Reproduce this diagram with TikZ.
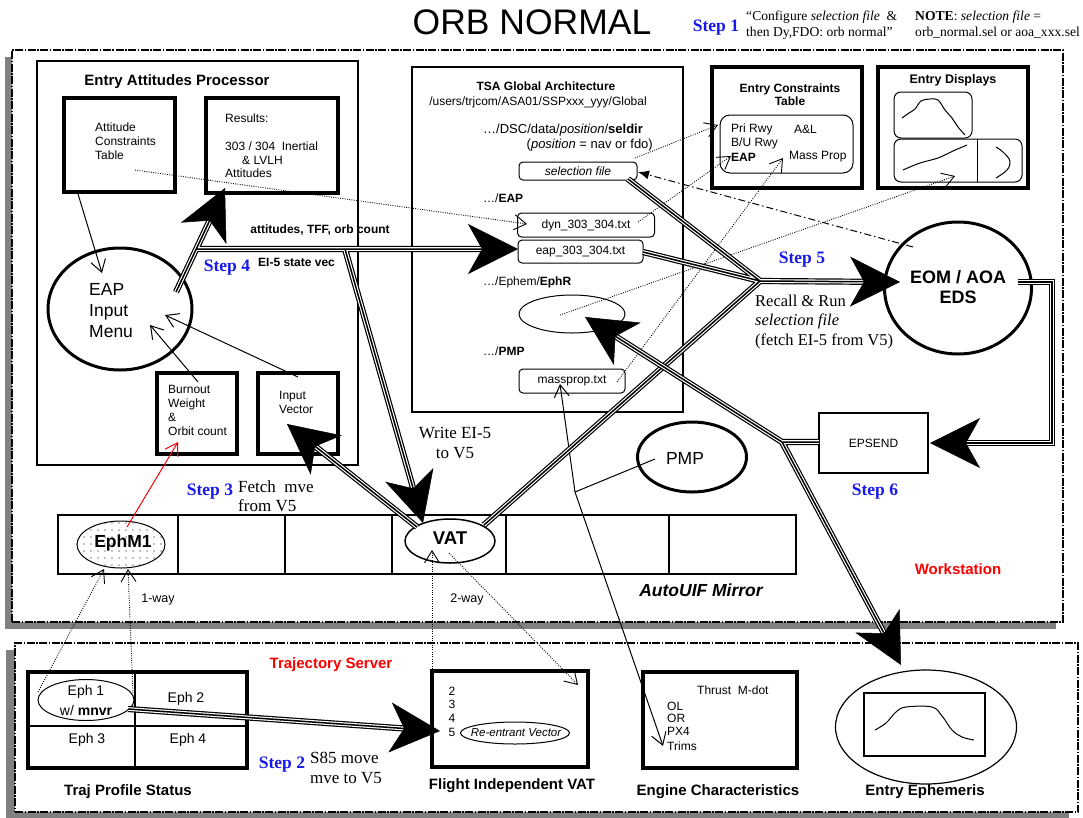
\documentclass[tikz,border=0pt]{standalone}
\usepackage{fontspec}
\setmainfont{Liberation Sans}
\newfontfamily\tnr{Liberation Serif}
\usetikzlibrary{arrows.meta,calc,shapes.geometric,patterns.meta}
\definecolor{stepblue}{RGB}{25,25,235}
\definecolor{shadowgray}{RGB}{128,128,128}
\tikzset{
  t12/.style={font=\fontsize{12}{14}\selectfont, inner sep=0pt},
  t12w/.style={t12, anchor=west, align=left},
  t12b/.style={font=\fontsize{12}{13.5}\selectfont\bfseries, inner sep=0pt},
  t15b/.style={font=\fontsize{15}{17}\selectfont\bfseries, inner sep=0pt},
  steplab/.style={font=\tnr\fontsize{17.5}{20}\selectfont\bfseries, text=stepblue, inner sep=0pt},
  serifnote/.style={font=\tnr\fontsize{17}{19.5}\selectfont, inner sep=0pt},
  thickbox/.style={draw, line width=3.5pt, inner sep=0pt},
  thinbox/.style={draw, line width=1.2pt, inner sep=0pt},
  rbox/.style={draw, line width=1pt, rounded corners=4pt, inner sep=0pt, font=\fontsize{12}{14}\selectfont},
  ovalnode/.style={ellipse, draw, inner sep=0pt},
  dashframe/.style={draw, fill=white, line width=1.5pt, inner sep=0pt, dash pattern=on 8pt off 1.5pt on 1.5pt off 1.5pt},
  trip/.style={line width=6.2pt, draw=black, postaction={draw=white, line width=3.8pt}, postaction={draw=black, line width=1.5pt}},
  bigtip/.style={line width=0.5pt, -{Stealth[length=50pt, width=50pt, inset=14pt]}},
  barb/.style={line width=1pt, -{Straight Barb[length=12pt, width=15pt]}},
  dotbarb/.style={line width=0.9pt, dash pattern=on 0.9pt off 1.4pt, -{Straight Barb[length=12pt, width=15pt]}},
}
\begin{document}
\begin{tikzpicture}[x=1pt,y=-1pt]
\useasboundingbox (0,0) rectangle (1083,817);
\fill[white] (0,0) rectangle (1083,817);
% frames with shadows
\fill[shadowgray] (5,57) rectangle (1056,629);
\node[dashframe, minimum width=1051pt, minimum height=572pt] (ws) at (537.5,336) {};
\fill[shadowgray] (6,650) rectangle (1069,818);
\node[dashframe, minimum width=1063pt, minimum height=169pt] (ts) at (546.5,727.5) {};

% header
\node[font=\fontsize{35.5}{40}\selectfont, inner sep=0pt] (title) at (532,22) {ORB NORMAL};
\node[steplab] (step1) at (716,28) {Step 1};
\node[font=\tnr\fontsize{13.6}{16}\selectfont, inner sep=0pt, anchor=west, align=left] (cfg) at (746,25) {“Configure \textit{selection file}\ \ \&\\then Dy,FDO: orb normal”};
\node[font=\tnr\fontsize{13.6}{16}\selectfont, inner sep=0pt, anchor=west, align=left] (note) at (915,25) {\textbf{NOTE}: \textit{selection file} =\\orb\_normal.sel or aoa\_xxx.sel};

% Entry Attitudes Processor
\node[thinbox, minimum width=321pt, minimum height=404pt] (eapproc) at (197.5,263) {};
\node[t15b] (eaptitle) at (177,82) {Entry Attitudes Processor};
\node[thickbox, minimum width=111pt, minimum height=94pt] (act) at (119.5,145) {};
\node[t12w] (acttxt) at (95,141) {Attitude\\Constraints\\Table};
\node[thickbox, minimum width=132pt, minimum height=95pt] (res) at (272,145.5) {};
\node[t12w] (restxt1) at (225,118) {Results:};
\node[t12w] (restxt2) at (225,146) {303 / 304~~Inertial};
\node[t12w] (restxt3) at (242,160) {\& LVLH};
\node[t12w] (restxt4) at (225,173) {Attitudes};
\node[ovalnode, line width=3pt, minimum width=144pt, minimum height=122pt] (menu) at (120,309) {};
\node[font=\fontsize{17.5}{21}\selectfont, inner sep=0pt, anchor=west, align=left] (menutxt) at (89,311) {EAP\\Input\\Menu};
\node[thickbox, minimum width=80pt, minimum height=81pt] (burn) at (197,413.5) {};
\node[t12w] (burntxt) at (168,410) {Burnout\\Weight\\\&\\Orbit count};
\node[thickbox, minimum width=80pt, minimum height=81pt] (ivec) at (298,413.5) {};
\node[t12w] (ivectxt) at (279,402) {Input\\Vector};
\node[t12b] (attlab) at (320,230) {attitudes, TFF, orb count};
\node[t12b, anchor=west] (eilab) at (258,262) {EI-5 state vec};
\node[steplab] (step4) at (227,268) {Step 4};

% TSA Global Architecture
\node[thinbox, minimum width=271pt, minimum height=345pt] (tsa) at (547.5,239.5) {};
\node[t12b] (tsatitle) at (546,86) {TSA Global Architecture};
\node[t12] (tsapath) at (538,102) {/users/trjcom/ASA01/SSPxxx\_yyy/Global};
\node[inner sep=0pt, font=\fontsize{13}{15}\selectfont, anchor=west] (seldir) at (483,130) {…/DSC/data/\textit{position}/\textbf{seldir}};
\node[inner sep=0pt, font=\fontsize{13}{15}\selectfont, anchor=east] (posn) at (653,145) {(\textit{position} = nav or fdo)};
\node[rbox, minimum width=118pt, minimum height=18pt, font=\fontsize{12}{14}\selectfont\itshape] (self) at (578,171) {selection file};
\node[t12, anchor=west] (eapdir) at (483,198) {…/\textbf{EAP}};
\node[rbox, minimum width=137pt, minimum height=24pt] (dyn) at (586,225) {dyn\_303\_304.txt};
\node[rbox, minimum width=125pt, minimum height=23pt] (eapf) at (580.5,251.5) {eap\_303\_304.txt};
\node[t12, anchor=west] (ephdir) at (483,282) {…/Ephem/\textbf{EphR}};
\node[ovalnode, line width=1pt, minimum width=106pt, minimum height=38pt] (ephr) at (572,314) {};
\node[t12, anchor=west] (pmpdir) at (483,351) {…/\textbf{PMP}};
\node[rbox, minimum width=106pt, minimum height=24pt] (mass) at (572,381) {massprop.txt};

% Entry Constraints Table
\node[thickbox, minimum width=150pt, minimum height=121pt] (ect) at (787,127.5) {};
\node[t12b, align=center] (ecttitle) at (790,94.5) {Entry Constraints\\Table};
\node[draw, line width=1pt, rounded corners=10pt, inner sep=0pt, minimum width=133pt, minimum height=58pt] (ectin) at (786.5,144) {};
\node[t12, anchor=west] (pri) at (731,129) {Pri Rwy};
\node[t12, anchor=west] (al) at (794,129) {A\&L};
\node[t12, anchor=west] (bu) at (731,143) {B/U Rwy};
\node[t12, anchor=west, font=\fontsize{12}{14}\selectfont\bfseries] (eapc) at (731,157) {EAP};
\node[t12, anchor=west] (mp) at (789,157) {Mass Prop};

% Entry Displays
\node[thickbox, minimum width=150pt, minimum height=121pt] (disp) at (953,127.5) {};
\node[font=\fontsize{12.5}{14}\selectfont\bfseries, inner sep=0pt] (disptitle) at (953,80) {Entry Displays};
\node[draw, line width=1pt, rounded corners=7pt, inner sep=0pt, minimum width=78pt, minimum height=46pt] (dtop) at (933,115) {};
\node[draw, line width=1pt, rounded corners=7pt, inner sep=0pt, minimum width=128pt, minimum height=43pt] (dbot) at (958,160.5) {};
\draw[line width=1pt] (977,139) -- (977,182);
\draw[line width=1pt] plot[smooth, tension=0.6] coordinates {(902,118) (909,113) (915,109) (921,101) (930,99) (938,100) (945,110) (952,118) (958,127) (965,135)};
\draw[line width=1pt] plot[smooth, tension=0.6] coordinates {(903,170) (920,163) (938,158) (953,151) (967,145)};
\draw[line width=1pt] plot[smooth, tension=0.6] coordinates {(996,147) (1003,152) (1010,161) (1007,170) (996,178)};

% EOM / EPSEND / PMP
\node[ovalnode, line width=3pt, minimum width=147pt, minimum height=132pt] (eom) at (958,288) {};
\node[font=\fontsize{18}{20}\selectfont\bfseries, inner sep=0pt, align=center] (eomtxt) at (958,287) {EOM / AOA\\EDS};
\node[steplab] (step5) at (802,260) {Step 5};
\node[font=\tnr\fontsize{16.5}{19.5}\selectfont, inner sep=0pt, anchor=west, align=left] (recall) at (755,322) {Recall \& Run\\\textit{selection file}\\(fetch EI-5 from V5)};
\node[thinbox, minimum width=109pt, minimum height=60pt, font=\fontsize{12}{14}\selectfont] (epsend) at (873.5,443) {EPSEND};
\node[steplab] (step6) at (875,492) {Step 6};
\node[ovalnode, line width=3pt, minimum width=109pt, minimum height=70pt] (pmp) at (692,457) {};
\node[font=\fontsize{17.5}{20}\selectfont, inner sep=0pt] (pmptxt) at (685,458) {PMP};
\node[serifnote, align=center] (write) at (455,443) {Write EI-5\\to V5};
\node[steplab] (step3) at (210,492) {Step 3};
\node[serifnote, anchor=west, align=left] (fetch) at (238,496) {Fetch~~mve\\from V5};

% AutoUIF Mirror row
\foreach \nm/\cx/\w in {c1/118/120, c2/231.5/107, c3/338.5/107, c4/449/114, c5/587.5/163, c6/732.5/127}
  \node[draw, line width=1.2pt, inner sep=0pt, minimum width=\w pt, minimum height=59pt] (\nm) at (\cx,544.5) {};
\node[ovalnode, line width=1pt, pattern={Dots[distance=7pt, radius=0.7pt]}, minimum width=88pt, minimum height=47pt] (ephm1) at (121,544.5) {};
\node[font=\fontsize{17.5}{20}\selectfont\bfseries, inner sep=0pt] (ephm1txt) at (123,543) {EphM1};
\node[ovalnode, line width=1.5pt, fill=white, minimum width=90pt, minimum height=44pt] (vat) at (450,541) {};
\node[font=\fontsize{18.5}{20}\selectfont\bfseries, inner sep=0pt] (vattxt) at (450,538) {VAT};
\node[font=\fontsize{12.5}{14}\selectfont, inner sep=0pt] (oneway) at (158,599) {1-way};
\node[font=\fontsize{12.5}{14}\selectfont, inner sep=0pt] (twoway) at (467,599) {2-way};
\node[font=\fontsize{17.5}{20}\selectfont\bfseries\itshape, inner sep=0pt] (mirror) at (701,590) {AutoUIF Mirror};
\node[font=\fontsize{15}{17}\selectfont\bfseries, text=red, inner sep=0pt] (wslab) at (958,569) {Workstation};

% Trajectory Server
\node[font=\fontsize{15}{17}\selectfont\bfseries, text=red, inner sep=0pt] (tslab) at (331,665) {Trajectory Server};
\node[thickbox, minimum width=219pt, minimum height=96pt] (tps) at (137.5,720) {};
\draw[line width=1.2pt] (135,672) -- (135,768);
\draw[line width=1.2pt] (28,726) -- (247,726);
\node[ovalnode, line width=1pt, fill=white, minimum width=96pt, minimum height=41pt] (eph1) at (86,700) {};
\node[font=\fontsize{14}{16}\selectfont, inner sep=0pt] (eph1a) at (86,692) {Eph 1};
\node[font=\fontsize{14}{16}\selectfont, inner sep=0pt] (eph1b) at (86,710) {w/ \textbf{mnvr}};
\node[font=\fontsize{14}{16}\selectfont, inner sep=0pt] (eph2) at (186,699) {Eph 2};
\node[font=\fontsize{14}{16}\selectfont, inner sep=0pt] (eph3) at (87,740) {Eph 3};
\node[font=\fontsize{14}{16}\selectfont, inner sep=0pt] (eph4) at (188,740) {Eph 4};
\node[t15b] (tpslab) at (128,792) {Traj Profile Status};
\node[steplab] (step2) at (282,765) {Step 2};
\node[serifnote, anchor=west, align=left] (s85) at (310,768) {S85 move\\mve to V5};

\node[thickbox, minimum width=156pt, minimum height=96pt] (fiv) at (510,719) {};
\node[font=\fontsize{12}{13.7}\selectfont, inner sep=0pt, align=left] (nums) at (452,711.5) {2\\3\\4\\5};
\node[ovalnode, line width=1pt, minimum width=109pt, minimum height=22pt] (reent) at (515,733) {};
\node[font=\fontsize{11.5}{13}\selectfont\itshape, inner sep=0pt] (reenttxt) at (516,733) {Re-entrant Vector};
\node[t15b] (fivlab) at (512,786) {Flight Independent VAT};

\node[thickbox, minimum width=154pt, minimum height=96pt] (eng) at (720,720) {};
\node[t12, anchor=west] (thr) at (697,690) {Thrust~~M-dot};
\node[t12, anchor=west] (ol) at (667,706) {OL};
\node[t12, anchor=west] (or) at (667,718) {OR};
\node[t12, anchor=west] (px4) at (667,731) {PX4};
\node[t12, anchor=west] (trims) at (667,746) {Trims};
\node[t15b] (englab) at (718,792) {Engine Characteristics};

\node[ovalnode, line width=1.2pt, minimum width=181pt, minimum height=114pt] (ephem) at (926,727) {};
\node[draw, line width=1.2pt, inner sep=0pt, minimum width=121pt, minimum height=63pt] (ephemplot) at (924.5,724.5) {};
\draw[line width=1pt] plot[smooth, tension=0.6] coordinates {(875,730) (886,723) (896,712) (906,707) (932,707) (942,716) (952,730) (962,737) (974,740)};
\node[t15b] (ephemlab) at (925,792) {Entry Ephemeris};

% thin connectors
\coordinate (actout) at (78,194);   \coordinate (menuA) at (102,273);
\coordinate (burnout) at (198,382); \coordinate (menuB) at (150,325);
\coordinate (ivecout) at (298,377); \coordinate (menuC) at (165,315);
\coordinate (m1out) at (127,527);   \coordinate (burnin) at (178,442);
\draw[barb] (actout) -- (menuA);
\draw[barb] (burnout) -- (menuB);
\draw[barb] (ivecout) -- (menuC);
\draw[barb, red] (m1out) -- (burnin);
\coordinate (massin) at (560,384); \coordinate (pmpj) at (575,492); \coordinate (engin) at (663,746);
\draw[line width=1pt, {Straight Barb[length=12pt, width=15pt]}-{Straight Barb[length=12pt, width=15pt]}] (massin) -- (pmpj) -- (engin);
\draw[line width=1pt] (655,459) -- (pmpj);

% dotted connectors
\draw[dotbarb] (135,170) -- (527,224);
\draw[dotbarb] (38,692) -- (104,569);
\draw[dotbarb] (133,693) -- (128,569);
\draw[dotbarb] (432,671) -- (432,550);
\draw[dotbarb] (449,553) -- (578,685);
\draw[dotbarb] (635,158) -- (718,125);
\draw[dotbarb] (638,222) -- (731,156);
\draw[dotbarb] (617,382) -- (783,158);
\draw[dotbarb] (560,315) -- (955,176);
\draw[line width=1pt, dash pattern=on 7pt off 3pt on 1.5pt off 3pt, -{Latex[length=11pt, width=9pt]}] (913,247) -- (638,172);

% triple-line connectors
\coordinate (mA) at (176,292);  \coordinate (tRes) at (225,188);
\coordinate (jA) at (196,249);  \coordinate (tEap) at (518,249);
\coordinate (jB) at (345,249);  \coordinate (tVat) at (423,523);
\draw[trip] (mA) -- ($(tRes)!36pt!(mA)$) (jA) -- ($(tEap)!36pt!(jA)$) (jB) -- ($(tVat)!36pt!(jB)$);
\coordinate (vIV) at (417,527); \coordinate (tIV) at (287,424);
\draw[trip] (vIV) -- ($(tIV)!36pt!(vIV)$);
\coordinate (vJ) at (484,525); \coordinate (sJ) at (628,179); \coordinate (eJ) at (643,252);
\coordinate (J5) at (760,281); \coordinate (tEOM) at (900,282);
\draw[trip] (vJ) -- (J5) -- ($(tEOM)!36pt!(J5)$) (sJ) -- (J5) (eJ) -- (J5);
\coordinate (eomR) at (1018,282); \coordinate (cD1) at (1052,282); \coordinate (cD2) at (1052,443); \coordinate (tEPS) at (930,443);
\draw[trip] (eomR) -- (cD1) -- (cD2) -- ($(tEPS)!36pt!(cD2)$);
\coordinate (epsL) at (819,442); \coordinate (cE) at (782,442); \coordinate (tEphR) at (585,317); \coordinate (tEphem) at (901,665);
\draw[trip] ($(tEphR)!36pt!(cE)$) -- (cE) -- ($(tEphem)!36pt!(cE)$) (cE) -- (epsL);
\coordinate (e1R) at (128,709); \coordinate (tFIV) at (440,731);
\draw[trip] (e1R) -- ($(tFIV)!36pt!(e1R)$);
\foreach \f/\t in {mA/tRes, jA/tEap, jB/tVat, vIV/tIV, J5/tEOM, cD2/tEPS, cE/tEphR, cE/tEphem, e1R/tFIV}
  \draw[bigtip] ($(\t)!12pt!(\f)$) -- (\t);
\end{tikzpicture}
\end{document}
